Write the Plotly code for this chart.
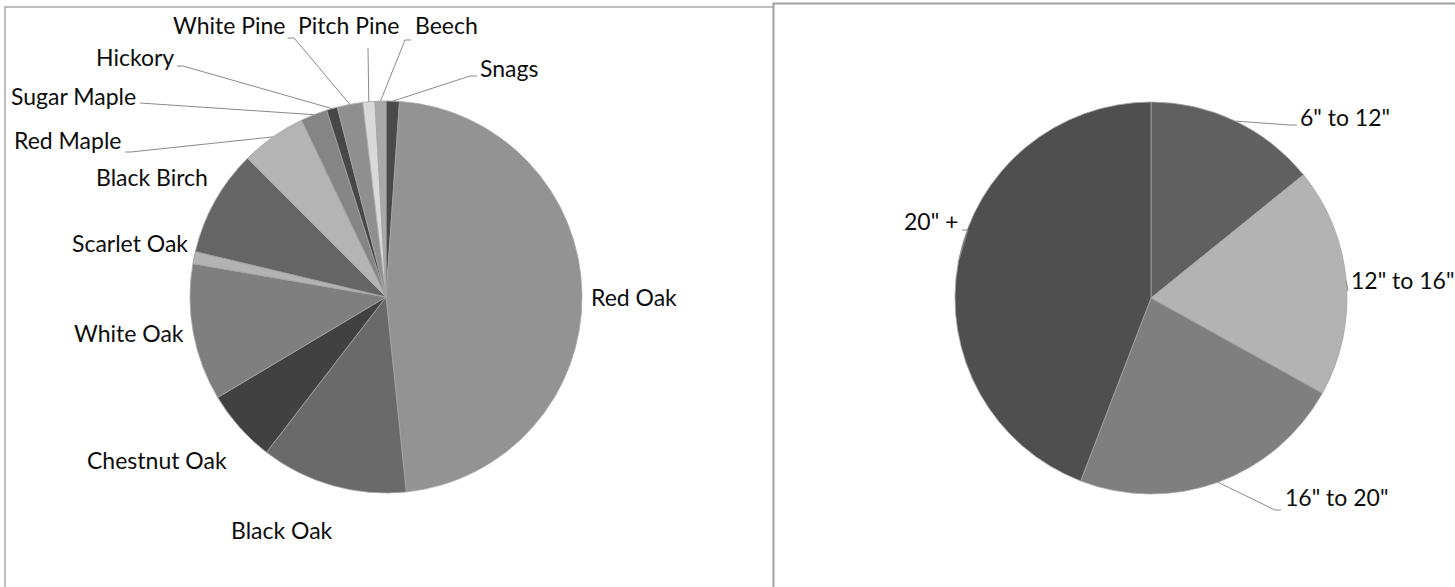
import math
import plotly.graph_objects as go

# ---------------- data ----------------
species = ["Snags", "Red Oak", "Black Oak", "Chestnut Oak", "White Oak", "Scarlet Oak",
           "Black Birch", "Red Maple", "Sugar Maple", "Hickory", "White Pine",
           "Pitch Pine", "Beech"]
species_pct = [1.1, 47.3, 12.1, 6.0, 11.3, 1.0, 8.8, 5.4, 2.2, 0.9, 2.1, 1.0, 0.9]
species_colors = ["#4a4a4a", "#939393", "#6a6a6a", "#414141", "#7f7f7f", "#b3b3b3",
                  "#656565", "#b4b4b4", "#858585", "#474747", "#8f8f8f", "#d9d9d9", "#a9a9a9"]

size_classes = ['6" to 12"', '12" to 16"', '16" to 20"', '20" +']
size_pct = [14.2, 18.9, 22.8, 44.2]
size_colors = ["#606060", "#b3b3b3", "#7f7f7f", "#4f4f4f"]

# ---------------- layout geometry (pixels) ----------------
W, H = 1455, 587
R = 196
LEFT_C = (386, 297)
RIGHT_C = (1151, 298)

# label placement: name -> (x, y, xanchor, leader points from label side or None)
left_labels = {
    "Snags": (478, 68, "left", [(477, 76), (470, 76)]),
    "Red Oak": (589, 297, "left", None),
    "Black Oak": (229, 530, "left", None),
    "Chestnut Oak": (229, 460, "right", None),
    "White Oak": (186, 333, "right", None),
    "Scarlet Oak": (190, 243, "right", None),
    "Black Birch": (210, 177, "right", None),
    "Red Maple": (123, 140, "right", [(125, 152), (131, 152)]),
    "Sugar Maple": (138, 96, "right", [(140, 103)]),
    "Hickory": (176, 57, "right", [(177, 66), (183, 66)]),
    "White Pine": (288, 25, "right", [(288, 38), (294, 38)]),
    "Pitch Pine": (348, 25, "center", [(368, 48)]),
    "Beech": (413, 25, "left", [(411, 40), (405, 40)]),
}
right_labels = {
    '6" to 12"': (1298, 117, "left", [(1297, 125), (1290, 125)]),
    '12" to 16"': (1349, 280, "left", [(1348, 291)]),
    '16" to 20"': (1283, 497, "left", [(1281, 510), (1275, 510)]),
    '20" +': (960, 221, "right", [(962, 230), (968, 230)]),
}

FONT = "Lato"
FSIZE = 23
LEADER = "#8a8a8a"


def domain(c):
    cx, cy = c
    return dict(x=[(cx - R) / W, (cx + R) / W],
                y=[(H - cy - R) / H, (H - cy + R) / H])


def edge_point(values, idx, c):
    total = sum(values)
    start = sum(values[:idx])
    ang = (start + values[idx] / 2) / total * 2 * math.pi
    return c[0] + R * math.sin(ang), c[1] - R * math.cos(ang)


fig = go.Figure()
fig.add_trace(go.Pie(labels=species, values=species_pct, sort=False, direction="clockwise",
                     rotation=0, textinfo="none", domain=domain(LEFT_C),
                     marker=dict(colors=species_colors, line=dict(color="#a5a5a5", width=0.8)),
                     showlegend=False, hoverinfo="label+percent"))
fig.add_trace(go.Pie(labels=size_classes, values=size_pct, sort=False, direction="clockwise",
                     rotation=0, textinfo="none", domain=domain(RIGHT_C),
                     marker=dict(colors=size_colors, line=dict(color="#a5a5a5", width=0.8)),
                     showlegend=False, hoverinfo="label+percent"))

shapes = [
    dict(type="rect", xref="x", yref="y", x0=5, y0=7, x1=790, y1=620,
         line=dict(color="#a8a8a8", width=1.5), fillcolor="white", layer="below"),
    dict(type="rect", xref="x", yref="y", x0=773.5, y0=3.5, x1=1480, y1=620,
         line=dict(color="#a0a0a0", width=2), fillcolor="white", layer="below"),
]
annotations = []


def add_labels(names, values, labels, c):
    for i, name in enumerate(names):
        x, y, anchor, pts = labels[name]
        annotations.append(dict(x=x, y=y, xref="x", yref="y", text=name, showarrow=False,
                                xanchor=anchor, yanchor="middle",
                                font=dict(family=FONT, size=FSIZE, color="#0d0d0d")))
        if pts:
            ex, ey = edge_point(values, i, c)
            allp = pts + [(ex, ey)]
            path = "M " + " L ".join(f"{px:.1f},{py:.1f}" for px, py in allp)
            shapes.append(dict(type="path", xref="x", yref="y", path=path,
                               line=dict(color=LEADER, width=1), layer="above"))


add_labels(species, species_pct, left_labels, LEFT_C)
add_labels(size_classes, size_pct, right_labels, RIGHT_C)

fig.update_layout(
    width=W, height=H, margin=dict(l=0, r=0, t=0, b=0),
    paper_bgcolor="white", plot_bgcolor="rgba(0,0,0,0)",
    xaxis=dict(range=[0, W], visible=False, fixedrange=True, domain=[0, 1]),
    yaxis=dict(range=[H, 0], visible=False, fixedrange=True, domain=[0, 1]),
    shapes=shapes, annotations=annotations, showlegend=False,
)

fig.write_html("out.html")
